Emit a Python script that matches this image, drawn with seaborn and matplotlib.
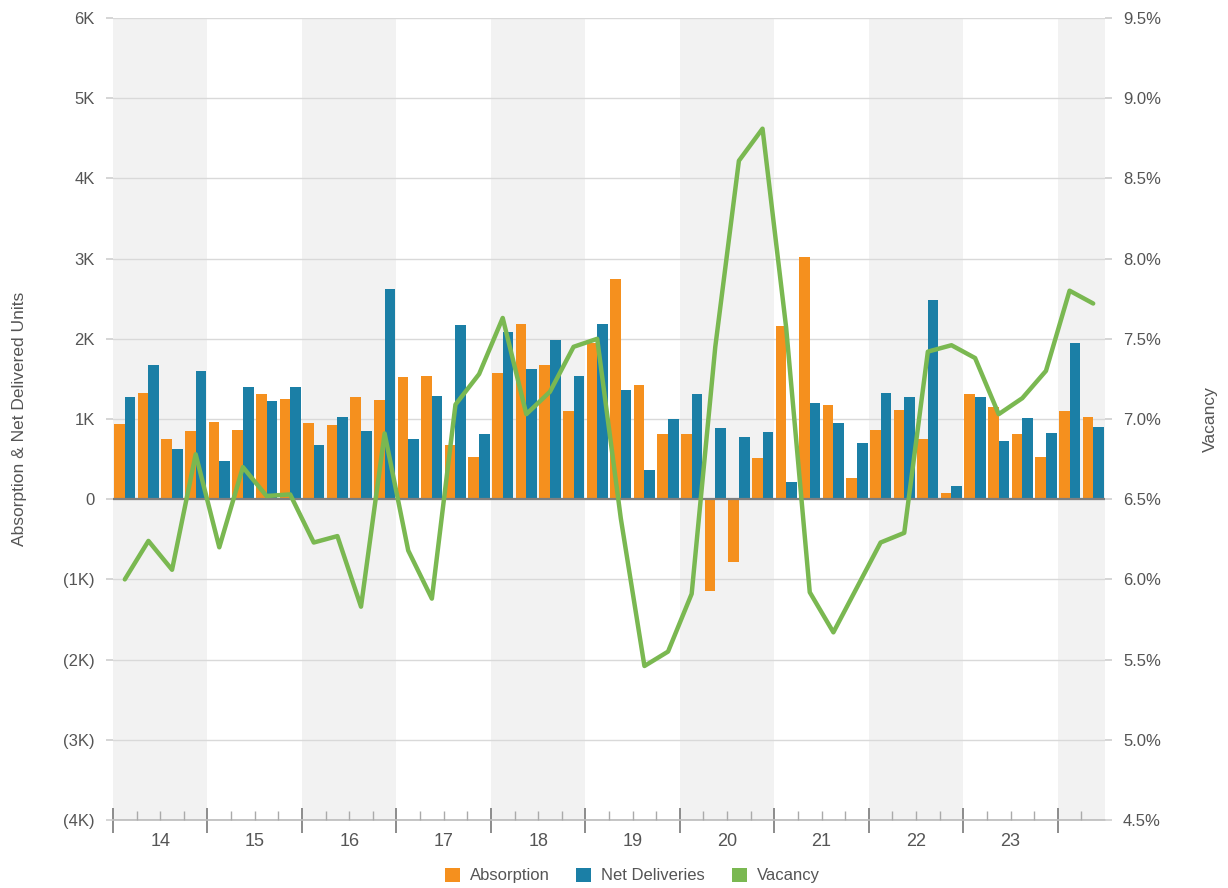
import numpy as np
import pandas as pd
import matplotlib
matplotlib.use("Agg")
import matplotlib.pyplot as plt
import matplotlib.transforms as mtransforms
from matplotlib.patches import Patch
import seaborn as sns

# ---------------- data ----------------
year_labels = ["14", "15", "16", "17", "18", "19", "20", "21", "22", "23"]
quarters = [f"{y}Q{q}" for y in range(14, 25) for q in range(1, 5)][:42]

absorption = [940, 1330, 750, 850, 960, 860, 1310, 1250, 950, 930, 1270, 1240,
              1520, 1530, 680, 530, 1570, 2190, 1670, 1100, 1950, 2740, 1420, 810,
              810, -1150, -780, 510, 2160, 3020, 1180, 270, 860, 1110, 750, 80,
              1310, 1150, 810, 530, 1100, 1030]
net_deliveries = [1270, 1670, 620, 1600, 480, 1400, 1220, 1400, 670, 1030, 850, 2620,
                  750, 1290, 2170, 810, 2080, 1620, 1980, 1530, 2180, 1360, 360, 1000,
                  1310, 890, 770, 840, 220, 1200, 950, 700, 1320, 1270, 2490, 160,
                  1270, 720, 1010, 820, 1950, 900]
vacancy = [6.00, 6.24, 6.06, 6.78, 6.20, 6.70, 6.52, 6.53, 6.23, 6.27, 5.83, 6.91,
           6.18, 5.88, 7.09, 7.28, 7.63, 7.03, 7.17, 7.45, 7.50, 6.38, 5.46, 5.55,
           5.91, 7.45, 8.61, 8.81, 7.57, 5.92, 5.67, 5.95, 6.23, 6.29, 7.42, 7.46,
           7.38, 7.03, 7.13, 7.30, 7.80, 7.72]

left_ticks = [-4000, -3000, -2000, -1000, 0, 1000, 2000, 3000, 4000, 5000, 6000]
left_labels = ["(4K)", "(3K)", "(2K)", "(1K)", "0", "1K", "2K", "3K", "4K", "5K", "6K"]
right_ticks = [4.5, 5.0, 5.5, 6.0, 6.5, 7.0, 7.5, 8.0, 8.5, 9.0, 9.5]
right_labels = [f"{v:.1f}%" for v in right_ticks]

series_names = ["Absorption", "Net Deliveries", "Vacancy"]
colors = {"Absorption": "#F5901E", "Net Deliveries": "#1B7FA6", "Vacancy": "#7AB851"}

df = pd.DataFrame({
    "quarter": quarters * 2,
    "value": absorption + net_deliveries,
    "series": ["Absorption"] * len(quarters) + ["Net Deliveries"] * len(quarters),
})

# ---------------- style ----------------
sns.set_theme(style="white")
plt.rcParams["font.family"] = ["Liberation Sans", "DejaVu Sans"]
text_color = "#555555"

fig = plt.figure(figsize=(12.28, 8.88), dpi=100)
ax = fig.add_axes([113 / 1228, 1 - 820 / 888, (1105 - 113) / 1228, (820 - 18) / 888])

n = len(quarters)
# alternating year bands
for start in range(0, n, 8):
    ax.axvspan(start - 0.5, min(start + 3.5, n - 0.5), color="#F2F2F2", zorder=0, lw=0)

sns.barplot(data=df, x="quarter", y="value", hue="series", order=quarters,
            hue_order=["Absorption", "Net Deliveries"],
            palette=colors, width=0.9, linewidth=0, saturation=1,
            legend=False, ax=ax, zorder=3)

ax.set_xlim(-0.5, n - 0.5)
ax.set_ylim(-4000, 6000)
ax.set_yticks(left_ticks)
ax.set_yticklabels(left_labels)
ax.yaxis.grid(True, color="#D9D9D9", lw=1, zorder=1)
ax.set_axisbelow(True)
ax.axhline(0, color="#7F7F7F", lw=1.6, zorder=4)
for s in ["top", "right", "left"]:
    ax.spines[s].set_visible(False)
ax.spines["bottom"].set_color("#BBBBBB")
ax.spines["bottom"].set_linewidth(1.2)

ax.tick_params(axis="y", left=True, length=5, color="#D0D0D0", labelcolor=text_color,
               labelsize=12, pad=8)
ax.set_ylabel("Absorption & Net Delivered Units", color=text_color, fontsize=12.5, labelpad=26)
ax.set_xlabel("")

# x axis: year labels at centers, year boundaries as minor ticks
centers = [4 * i + 1.5 for i in range(len(year_labels))]
ax.set_xticks(centers)
ax.set_xticklabels(year_labels)
ax.tick_params(axis="x", which="major", bottom=True, length=0, labelcolor=text_color,
               labelsize=13, pad=9)
ax.set_xticks([4 * i - 0.5 for i in range(len(year_labels) + 1)], minor=True)
ax.tick_params(axis="x", which="minor", bottom=True, direction="inout", length=18,
               width=1.4, color="#8C8C8C")
qb = [q - 0.5 for q in range(1, n) if q % 4 != 0]
trans = mtransforms.blended_transform_factory(ax.transData, ax.transAxes)
ax.vlines(qb, 0, 0.011, transform=trans, color="#AAAAAA", lw=1, clip_on=False, zorder=5)

# right axis: vacancy
ax2 = ax.twinx()
sns.lineplot(x=np.arange(n), y=vacancy, ax=ax2, color=colors["Vacancy"], lw=3.2, zorder=6)
ax2.set_ylim(4.5, 9.5)
ax2.set_yticks(right_ticks)
ax2.set_yticklabels(right_labels)
ax2.tick_params(axis="y", right=True, length=5, color="#D0D0D0", labelcolor=text_color,
                labelsize=12, pad=8)
for s in ["top", "right", "left", "bottom"]:
    ax2.spines[s].set_visible(False)
ax2.set_ylabel("Vacancy", color=text_color, fontsize=12.5, labelpad=30)
ax2.set_xlim(-0.5, n - 0.5)

handles = [Patch(facecolor=colors[s], edgecolor="none") for s in series_names]
fig.legend(handles, series_names, loc="center", bbox_to_anchor=(0.515, 0.014), ncol=3,
           frameon=False, fontsize=12, labelcolor=text_color, handlelength=0.9,
           handleheight=0.9, columnspacing=1.6, handletextpad=0.6)

fig.savefig("out.png", dpi=100)
